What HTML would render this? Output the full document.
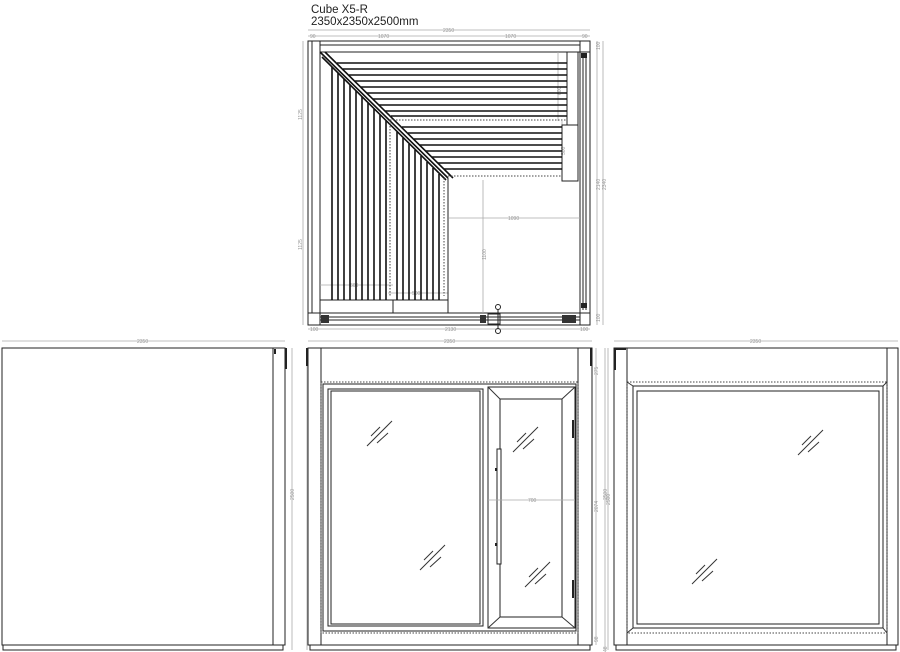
<!DOCTYPE html>
<html><head><meta charset="utf-8"><style>
html,body{margin:0;padding:0;background:#fff;width:900px;height:652px;overflow:hidden}
svg{display:block}
text{font-family:"Liberation Sans",sans-serif}
.d{stroke:#aaa;stroke-width:0.8;fill:none}
.t{font-size:5px;fill:#999}
.k{stroke:#222;fill:none;stroke-width:1}
.s{stroke:#111;stroke-width:1.6}
.dot{stroke:#444;stroke-width:1;stroke-dasharray:1.5 1.5;fill:none}
.g{stroke:#333;stroke-width:1}
</style></head><body>
<svg width="900" height="652" viewBox="0 0 900 652" xmlns="http://www.w3.org/2000/svg">
<text x="311" y="13" font-size="11.5" fill="#222">Cube X5-R</text>
<text x="311" y="25" font-size="11.5" fill="#222">2350x2350x2500mm</text>

<!-- PLAN dims -->
<line class="d" x1="308" y1="30" x2="590" y2="30"/><text class="t" x="443" y="32">2350</text>
<line class="d" x1="308" y1="36" x2="590" y2="36"/>
<text class="t" x="310" y="38">90</text><text class="t" x="378" y="38">1070</text><text class="t" x="505" y="38">1070</text><text class="t" x="582" y="38">90</text>
<line class="d" x1="303" y1="41" x2="303" y2="325"/>
<text class="t" transform="translate(302,120) rotate(-90)">1125</text>
<text class="t" transform="translate(302,250) rotate(-90)">1125</text>
<line class="d" x1="597" y1="41" x2="597" y2="325"/><line class="d" x1="603" y1="41" x2="603" y2="325"/>
<text class="t" transform="translate(600,190) rotate(-90)">2140</text>
<text class="t" transform="translate(606,190) rotate(-90)">2340</text>
<text class="t" transform="translate(600,50) rotate(-90)">100</text>
<text class="t" transform="translate(600,322) rotate(-90)">100</text>
<line class="d" x1="308" y1="329" x2="590" y2="329"/>
<text class="t" x="310" y="331">100</text><text class="t" x="445" y="331">2130</text><text class="t" x="580" y="331">100</text>

<!-- PLAN walls -->
<rect class="k" x="308" y="41" width="282" height="284"/>
<rect class="k" x="308" y="41" width="12" height="284"/>
<line class="k" x1="312" y1="41" x2="312" y2="313"/>
<rect class="k" x="320" y="41" width="260" height="11"/>
<line class="k" x1="320" y1="45" x2="580" y2="45"/>
<rect class="k" x="580" y="41" width="10" height="11"/>
<rect class="k" x="580" y="52" width="10" height="261"/>
<line class="k" x1="583" y1="55" x2="583" y2="310"/><line class="k" x1="586" y1="55" x2="586" y2="310"/>
<rect x="581" y="53" width="6" height="5" fill="#222"/><rect x="581" y="303" width="6" height="5" fill="#222"/>
<rect class="k" x="308" y="313" width="12" height="12"/>
<rect class="k" x="580" y="313" width="10" height="12"/>
<rect class="k" x="320" y="313" width="260" height="12"/>
<line class="k" x1="320" y1="317" x2="580" y2="317"/><line class="k" x1="320" y1="320" x2="580" y2="320"/>
<rect x="321" y="315" width="8" height="8" fill="#333"/><rect x="480" y="315" width="6" height="8" fill="#333"/>
<rect x="488" y="314" width="12" height="10" fill="none" stroke="#222"/>
<rect x="562" y="315" width="14" height="8" fill="#333"/>
<circle cx="498" cy="307" r="2.5" fill="none" stroke="#222"/><circle cx="498" cy="331" r="2.5" fill="none" stroke="#222"/>
<line class="k" x1="498" y1="309" x2="498" y2="329"/>

<!-- bench frame/dims -->
<line class="d" x1="449" y1="218" x2="580" y2="218"/><text class="t" x="508" y="220">1090</text>
<line class="d" x1="483" y1="180" x2="483" y2="313"/><text class="t" transform="translate(486,260) rotate(-90)">1100</text>
<line class="d" x1="558" y1="52" x2="558" y2="121"/><text class="t" transform="translate(561,95) rotate(-90)">600</text>
<line class="d" x1="562" y1="121" x2="562" y2="178"/><text class="t" transform="translate(565,155) rotate(-90)">500</text>
<line class="d" x1="320" y1="285" x2="393" y2="285"/><text class="t" x="350" y="287">600</text>
<line class="d" x1="388" y1="293" x2="448" y2="293"/><text class="t" x="412" y="295">500</text>
<rect class="k" x="567" y="52" width="11" height="73"/>
<rect class="k" x="562" y="125" width="16" height="56"/>
<rect class="k" x="320" y="300" width="128" height="13"/>
<line class="k" x1="393" y1="300" x2="393" y2="313"/>

<!-- diagonal -->
<line class="s" x1="320" y1="52" x2="448" y2="178" stroke-width="1"/>
<line class="s" x1="325" y1="52" x2="453" y2="178" stroke-width="1"/>
<line class="s" x1="322" y1="57" x2="446" y2="180" stroke-width="1"/>
<line class="k" x1="448" y1="178" x2="448" y2="300"/>

<!-- upper horizontal slats -->
<g class="s">
<line x1="337" y1="63" x2="567" y2="63"/><line x1="343" y1="69" x2="567" y2="69"/>
<line x1="349" y1="75" x2="567" y2="75"/><line x1="355" y1="81" x2="567" y2="81"/>
<line x1="361" y1="87" x2="567" y2="87"/><line x1="367" y1="93" x2="567" y2="93"/>
<line x1="373" y1="99" x2="567" y2="99"/><line x1="379" y1="105" x2="567" y2="105"/>
<line x1="385" y1="111" x2="567" y2="111"/><line x1="391" y1="116" x2="567" y2="116"/>
<!-- lower -->
<line x1="402" y1="127" x2="562" y2="127"/><line x1="408" y1="133" x2="562" y2="133"/>
<line x1="414" y1="139" x2="562" y2="139"/><line x1="420" y1="145" x2="562" y2="145"/>
<line x1="426" y1="151" x2="562" y2="151"/><line x1="432" y1="157" x2="562" y2="157"/>
<line x1="438" y1="163" x2="562" y2="163"/><line x1="444" y1="169" x2="562" y2="169"/>
<!-- vertical slats -->
<line x1="332" y1="67" x2="332" y2="300"/><line x1="338" y1="73" x2="338" y2="300"/>
<line x1="344" y1="79" x2="344" y2="300"/><line x1="350" y1="85" x2="350" y2="300"/>
<line x1="356" y1="91" x2="356" y2="300"/><line x1="362" y1="97" x2="362" y2="300"/>
<line x1="368" y1="103" x2="368" y2="300"/><line x1="374" y1="109" x2="374" y2="300"/>
<line x1="380" y1="115" x2="380" y2="300"/><line x1="386" y1="121" x2="386" y2="300"/>
<line x1="397" y1="132" x2="397" y2="300"/><line x1="403" y1="138" x2="403" y2="300"/>
<line x1="409" y1="144" x2="409" y2="300"/><line x1="415" y1="150" x2="415" y2="300"/>
<line x1="421" y1="156" x2="421" y2="300"/><line x1="427" y1="162" x2="427" y2="300"/>
<line x1="433" y1="168" x2="433" y2="300"/><line x1="439" y1="174" x2="439" y2="300"/>
</g>
<line class="dot" x1="390" y1="120" x2="567" y2="120"/>
<line class="dot" x1="448" y1="176" x2="562" y2="176"/>
<line class="dot" x1="390" y1="120" x2="390" y2="296"/>
<line class="dot" x1="444" y1="178" x2="444" y2="296"/>

<!-- LEFT ELEVATION -->
<line class="d" x1="2" y1="341" x2="285" y2="341"/><text class="t" x="137" y="343">2350</text>
<line class="d" x1="292" y1="348" x2="292" y2="650"/><text class="t" transform="translate(294,500) rotate(-90)">2500</text>
<rect class="k" x="2" y="348" width="283" height="297"/>
<line class="k" x1="273" y1="348" x2="273" y2="645"/>
<rect class="k" x="3" y="645" width="280" height="5"/>
<rect x="285" y="348" width="2" height="21" fill="#222"/>
<rect x="274" y="349" width="2" height="5" fill="#222"/>

<!-- MIDDLE ELEVATION -->
<line class="d" x1="308" y1="341" x2="592" y2="341"/><text class="t" x="444" y="343">2350</text>
<line class="d" x1="596" y1="348" x2="596" y2="645"/><line class="d" x1="307" y1="348" x2="307" y2="650"/>
<line class="d" x1="605" y1="348" x2="605" y2="650"/>
<text class="t" transform="translate(598,375) rotate(-90)">275</text>
<text class="t" transform="translate(598,512) rotate(-90)">2074</text>
<text class="t" transform="translate(607,500) rotate(-90)">2500</text>
<text class="t" transform="translate(598,642) rotate(-90)">98</text>
<text class="t" transform="translate(607,652) rotate(-90)">48</text>
<rect class="k" x="308" y="348" width="284" height="297"/>
<line class="k" x1="321" y1="348" x2="321" y2="645"/>
<line class="k" x1="578" y1="348" x2="578" y2="645"/>
<rect class="k" x="310" y="645" width="280" height="5"/>
<rect x="306" y="348" width="2" height="18" fill="#222"/><rect x="590" y="348" width="2" height="18" fill="#222"/>
<rect class="dot" x="321" y="382" width="257" height="251"/>
<rect class="k" x="323" y="384" width="253" height="247"/>
<rect class="k" x="328" y="389" width="155" height="237"/>
<rect class="k" x="331" y="391" width="149" height="233"/>
<rect class="k" x="488" y="387" width="87" height="241"/>
<rect class="k" x="500" y="399" width="62" height="218"/>
<g class="g"><line x1="488" y1="387" x2="500" y2="399"/><line x1="575" y1="387" x2="562" y2="399"/>
<line x1="488" y1="628" x2="500" y2="617"/><line x1="575" y1="628" x2="562" y2="617"/></g>
<rect x="497" y="449" width="4" height="115" fill="#fff" stroke="#222"/>
<rect x="495" y="468" width="2" height="3" fill="#222"/><rect x="495" y="543" width="2" height="3" fill="#222"/>
<rect x="572" y="420" width="2" height="18" fill="#222"/><rect x="572" y="580" width="2" height="18" fill="#222"/>
<line class="d" x1="488" y1="500" x2="575" y2="500"/><text class="t" x="528" y="502">700</text>
<g class="g">
<line x1="367" y1="446" x2="392" y2="421"/><line x1="371" y1="436" x2="380" y2="427"/><line x1="377" y1="443" x2="388" y2="433"/>
<line x1="420" y1="570" x2="445" y2="545"/><line x1="424" y1="560" x2="433" y2="551"/><line x1="430" y1="567" x2="441" y2="557"/>
<line x1="513" y1="452" x2="538" y2="427"/><line x1="517" y1="442" x2="526" y2="433"/><line x1="523" y1="449" x2="534" y2="439"/>
<line x1="525" y1="587" x2="550" y2="562"/><line x1="529" y1="577" x2="538" y2="568"/><line x1="535" y1="584" x2="546" y2="574"/>
</g>

<!-- RIGHT ELEVATION -->
<line class="d" x1="614" y1="341" x2="898" y2="341"/><text class="t" x="750" y="343">2350</text>
<line class="d" x1="608" y1="348" x2="608" y2="650"/><text class="t" transform="translate(610,505) rotate(-90)">2500</text>
<rect class="k" x="614" y="348" width="284" height="297"/>
<line class="k" x1="627" y1="348" x2="627" y2="645"/>
<line class="k" x1="887" y1="348" x2="887" y2="645"/>
<rect class="k" x="616" y="645" width="280" height="5"/>
<rect x="614" y="348" width="2" height="22" fill="#222"/><rect x="614" y="348" width="12" height="2" fill="#222"/>
<rect class="dot" x="627" y="382" width="260" height="251"/>
<rect class="k" x="633" y="386" width="250" height="242"/>
<rect class="k" x="637" y="391" width="242" height="233"/>
<g class="g"><line x1="627" y1="382" x2="633" y2="386"/><line x1="887" y1="382" x2="883" y2="386"/>
<line x1="627" y1="633" x2="633" y2="628"/><line x1="887" y1="633" x2="883" y2="628"/>
<line x1="798" y1="455" x2="823" y2="430"/><line x1="802" y1="445" x2="811" y2="436"/><line x1="808" y1="452" x2="819" y2="442"/>
<line x1="692" y1="584" x2="717" y2="559"/><line x1="696" y1="574" x2="705" y2="565"/><line x1="702" y1="581" x2="713" y2="571"/>
</g>
</svg>
</body></html>
